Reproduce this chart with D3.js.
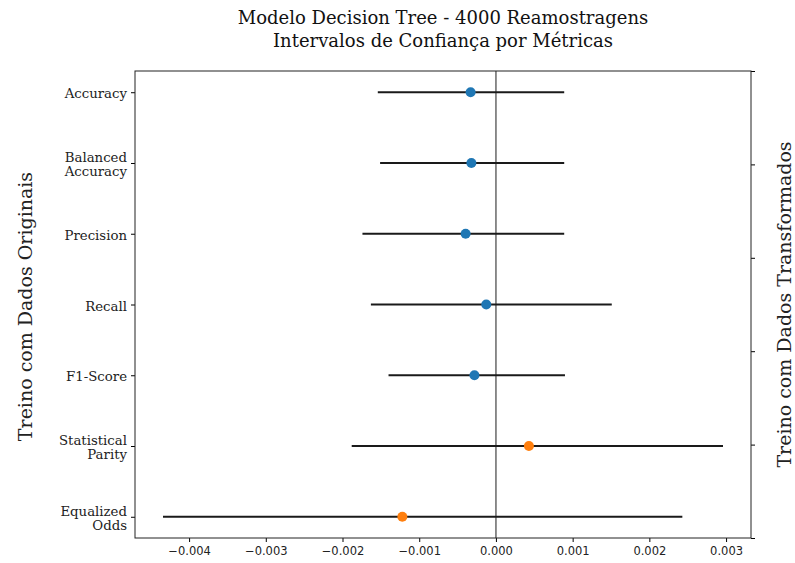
<!DOCTYPE html>
<html>
<head>
<meta charset="utf-8">
<script src="https://cdn.jsdelivr.net/npm/d3@7"></script>
<style>
  body { margin: 0; background: #fff; }
  svg { display: block; }
</style>
</head>
<body>
<svg></svg>
<script>
// metric names (top to bottom), split across lines as in the chart
const metrics = ["Accuracy", "Balanced\nAccuracy", "Precision", "Recall", "F1-Score", "Statistical\nParity", "Equalized\nOdds"]
const means = [-0.00033, -0.00032, -0.000395, -0.000126, -0.00028, 0.00043, -0.00122]
const lower = [-0.00154, -0.00151, -0.00174, -0.00163, -0.0014, -0.00188, -0.00434]
const upper = [0.00089, 0.00089, 0.00089, 0.00151, 0.0009, 0.00296, 0.00243]
const group = ["perf", "perf", "perf", "perf", "perf", "fair", "fair"]
const xTicks = [-0.004, -0.003, -0.002, -0.001, 0, 0.001, 0.002, 0.003]
const rightTicks = [0, 0.2, 0.4, 0.6, 0.8, 1.0]
const titleLines = ["Modelo Decision Tree - 4000 Reamostragens", "Intervalos de Confiança por Métricas"]

const width = 795, height = 563
const margin = { top: 71, bottom: 25, left: 135, right: 44 }
const innerWidth = width - margin.left - margin.right
const innerHeight = height - margin.top - margin.bottom

const svg = d3.select("svg").attr("width", width).attr("height", height)

const data = metrics.map((m, i) => ({ name: m, mean: means[i], lo: lower[i], hi: upper[i], grp: group[i] }))

// matplotlib-ish 5% margins
const xMin = d3.min(lower), xMax = d3.max(upper)
const pad = (xMax - xMin) * 0.05
const xScale = d3.scaleLinear().domain([xMin - pad, xMax + pad]).range([0, innerWidth])

const yScale = d3.scalePoint().domain(metrics).range([0, innerHeight]).padding(0.3)
const yRight = d3.scaleLinear().domain([0, 1]).range([innerHeight, 0])

const color = d3.scaleOrdinal().domain(["perf", "fair"]).range(["#1f77b4", "#ff7f0e"])

const g = svg.append("g").attr("transform", `translate(${margin.left},${margin.top})`)

// title, one text per line
const cx = margin.left + innerWidth / 2
svg.selectAll(".title").data(titleLines).enter().append("text")
  .attr("class", "title")
  .attr("x", cx)
  .attr("y", (d, i) => 24 + i * 23)
  .attr("text-anchor", "middle")
  .attr("font-family", "DejaVu Serif")
  .attr("font-size", 18)
  .attr("fill", "#111")
  .text(d => d)

// zero line
g.append("line")
  .attr("x1", xScale(0)).attr("x2", xScale(0))
  .attr("y1", 0).attr("y2", innerHeight)
  .attr("stroke", "#808080").attr("stroke-width", 1.8)

// interval lines
g.selectAll(".ci").data(data).enter().append("line")
  .attr("class", "ci")
  .attr("x1", d => xScale(d.lo)).attr("x2", d => xScale(d.hi))
  .attr("y1", d => yScale(d.name)).attr("y2", d => yScale(d.name))
  .attr("stroke", "#1a1a1a").attr("stroke-width", 2)

// means
g.selectAll(".dot").data(data).enter().append("circle")
  .attr("class", "dot")
  .attr("cx", d => xScale(d.mean))
  .attr("cy", d => yScale(d.name))
  .attr("r", 5)
  .attr("fill", d => color(d.grp))

// x axis
const xAxis = d3.axisBottom(xScale).tickValues(xTicks).tickSizeOuter(0).tickSize(4).tickPadding(5)
  .tickFormat(d => d3.format(".3f")(d).replace("-", "\u2212"))
const xAxisG = g.append("g").attr("transform", `translate(0,${innerHeight})`).call(xAxis)
xAxisG.select(".domain").remove()
xAxisG.selectAll("text").attr("font-family", "DejaVu Sans").attr("font-size", 11.5).attr("fill", "#222")

// left axis, labels written by hand so they can wrap
const yAxis = d3.axisLeft(yScale).tickSizeOuter(0).tickSize(4).tickFormat("")
const yAxisG = g.append("g").call(yAxis)
yAxisG.select(".domain").remove()
yAxisG.selectAll("text").remove()
yAxisG.selectAll(".tick").each(function (d) {
  const lines = d.split("\n")
  const tick = d3.select(this)
  lines.forEach((l, i) => {
    tick.append("text")
      .attr("x", -8)
      .attr("y", (i - (lines.length - 1) / 2) * 14.5 + 5.5)
      .attr("text-anchor", "end")
      .attr("font-family", "DejaVu Serif")
      .attr("font-size", 13.3)
      .attr("fill", "#222")
      .text(l)
  })
})

// right axis (twin, no labels)
const rAxis = d3.axisRight(yRight).tickValues(rightTicks).tickSize(4).tickSizeOuter(0).tickFormat("")
const rAxisG = g.append("g").attr("transform", `translate(${innerWidth},0)`).call(rAxis)
rAxisG.select(".domain").remove()
rAxisG.selectAll("text").remove()

// frame
g.append("rect")
  .attr("x", 0).attr("y", 0).attr("width", innerWidth).attr("height", innerHeight)
  .attr("fill", "none").attr("stroke", "#222").attr("stroke-width", 1)

// axis titles
svg.append("text")
  .attr("transform", `translate(32,${margin.top + innerHeight / 2 + 2}) rotate(-90)`)
  .attr("text-anchor", "middle")
  .attr("font-family", "DejaVu Serif")
  .attr("font-size", 19)
  .attr("fill", "#222")
  .text("Treino com Dados Originais")

svg.append("text")
  .attr("transform", `translate(791,${margin.top + innerHeight / 2}) rotate(-90)`)
  .attr("text-anchor", "middle")
  .attr("font-family", "DejaVu Serif")
  .attr("font-size", 19)
  .attr("fill", "#222")
  .text("Treino com Dados Transformados")
</script>
</body>
</html>
